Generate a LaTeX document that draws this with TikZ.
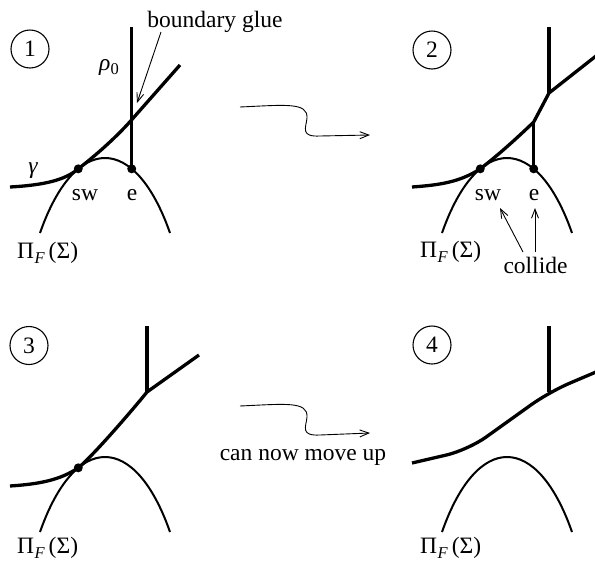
\documentclass[tikz,border=0pt]{standalone}
\usepackage{fontspec}
\IfFontExistsTF{LiberationSerif-Regular.ttf}{%
  \setmainfont{LiberationSerif}[Extension=.ttf,UprightFont=*-Regular,ItalicFont=*-Italic,BoldFont=*-Bold,BoldItalicFont=*-BoldItalic]}{%
  \setmainfont{Liberation Serif}}
\usetikzlibrary{arrows.meta}
\newcommand{\PiFSigma}{Π\kern0.5pt\raisebox{-5pt}{\fontsize{16.5}{16.5}\selectfont\itshape F}\kern4pt(Σ)}
\tikzset{
  thickcurve/.style={line width=3.3pt},
  thincurve/.style={line width=2pt},
  thinarrow/.style={line width=0.9pt,-{Straight Barb[length=9pt,width=7pt,line width=0.9pt]}},
  numcircle/.style={draw,circle,line width=1.1pt,minimum size=38pt,inner sep=0pt},
  dotmark/.style={circle,fill,inner sep=0pt,minimum size=9pt},
  lbl/.style={inner sep=0pt},
  every node/.style={font=\fontsize{23.5}{28}\selectfont}
}
\begin{document}
\begin{tikzpicture}[x=1pt,y=-1pt]
\useasboundingbox (0,0) rectangle (595,563);

% ---------------- Panel 1 ----------------
\node[numcircle] (c1) at (30,49) {1};
\draw[thincurve] (40,233) .. controls (75,133) and (135,133) .. coordinate[pos=0.31] (sw1) coordinate[pos=0.69] (e1) (170,233);
\coordinate (t1) at (0,27);
\draw[thickcurve] (e1) -- (e1 |- t1);
\draw[thickcurve] (10,187) .. controls (45,185) and (65,180) .. (sw1) .. controls (95,156) and (118,136) .. (135,116) -- (180,65);
\node[dotmark] (dsw1) at (sw1) {};
\node[dotmark] (de1) at (e1) {};
\node[lbl] (rho) at (109,67) {{\itshape ρ}\raisebox{-4pt}{\fontsize{16.5}{16.5}\selectfont 0}};
\node[lbl] (gam) at (33,171) {\itshape γ};
\node[lbl,anchor=base] (lsw1) at (85,200) {sw};
\node[lbl,anchor=base] (le1) at (132,200) {e};
\node[lbl,anchor=base west] (pi1) at (17,258) {\PiFSigma};
\node[lbl] (glue) at (215,22) {boundary glue};
\coordinate (gs) at (161,32);
\coordinate (gt) at (137,103);
\draw[thinarrow] (gs) -- (gt);

% arrow 1 -> 2
\coordinate (a1s) at (240,107);
\coordinate (a1e) at (370,135);
\draw[thinarrow] (a1s) .. controls (285,105) and (308,102) .. (307,118) .. controls (306,128) and (300,137) .. (320,136) -- (a1e);

% ---------------- Panel 2 ----------------
\node[numcircle] (c2) at (432,50) {2};
\draw[thincurve] (442,233) .. controls (477,133) and (537,133) .. coordinate[pos=0.31] (sw2) coordinate[pos=0.69] (e2) (572,233);
\coordinate (j2) at (549,93);
\coordinate (t2) at (549,27);
\coordinate (b2) at (596,56);
\coordinate (h2) at (0,122);
\coordinate (k2) at (e2 |- h2);
\draw[thickcurve] (t2) -- (j2);
\draw[thickcurve] (k2) -- (e2);
\draw[thickcurve] (b2) -- (j2) -- (k2) .. controls (515,140) and (497,156) .. (sw2) .. controls (460,182) and (440,185) .. (412,187);
\node[dotmark] (dsw2) at (sw2) {};
\node[dotmark] (de2) at (e2) {};
\node[lbl,anchor=base] (lsw2) at (488,200) {sw};
\node[lbl,anchor=base] (le2) at (534,200) {e};
\node[lbl,anchor=base west] (pi2) at (420,257) {\PiFSigma};
\node[lbl,anchor=base] (coll) at (535.5,273) {collide};
\coordinate (cs1) at (523,252);
\coordinate (ct1) at (500,208);
\coordinate (cs2) at (535,252);
\coordinate (ct2) at (535,208);
\draw[thinarrow] (cs1) -- (ct1);
\draw[thinarrow] (cs2) -- (ct2);

% ---------------- Panel 3 ----------------
\node[numcircle] (c3) at (29,345.5) {3};
\draw[thincurve] (40,532) .. controls (75,432) and (135,432) .. coordinate[pos=0.31] (sw3) (170,532);
\coordinate (j3) at (147,392);
\coordinate (t3) at (147,326);
\coordinate (b3) at (199,355);
\draw[thickcurve] (t3) -- (j3);
\draw[thickcurve] (b3) -- (j3) .. controls (135,407) and (93,456) .. (sw3) .. controls (60,480) and (40,484) .. (10,486);
\node[dotmark] (dsw3) at (sw3) {};
\node[lbl,anchor=base west] (pi3) at (17,553) {\PiFSigma};

% arrow 3 -> 4
\coordinate (a2s) at (240,406);
\coordinate (a2e) at (370,433);
\draw[thinarrow] (a2s) .. controls (285,404) and (308,401) .. (307,417) .. controls (306,427) and (300,436) .. (320,435) -- (a2e);
\node[lbl,anchor=base] (move) at (303,460) {can now move up};

% ---------------- Panel 4 ----------------
\node[numcircle] (c4) at (432,345) {4};
\draw[thincurve] (442,532) .. controls (477,432) and (537,432) .. (572,532);
\coordinate (j4) at (549,392);
\coordinate (t4) at (549,326);
\coordinate (b4) at (596,372);
\coordinate (m4) at (468,450);
\coordinate (l4) at (412,463);
\draw[thickcurve] (t4) -- (j4);
\draw[thickcurve,rounded corners=22pt] (b4) -- (j4) -- (m4) -- (l4);
\node[lbl,anchor=base west] (pi4) at (420,553) {\PiFSigma};
\end{tikzpicture}
\end{document}
